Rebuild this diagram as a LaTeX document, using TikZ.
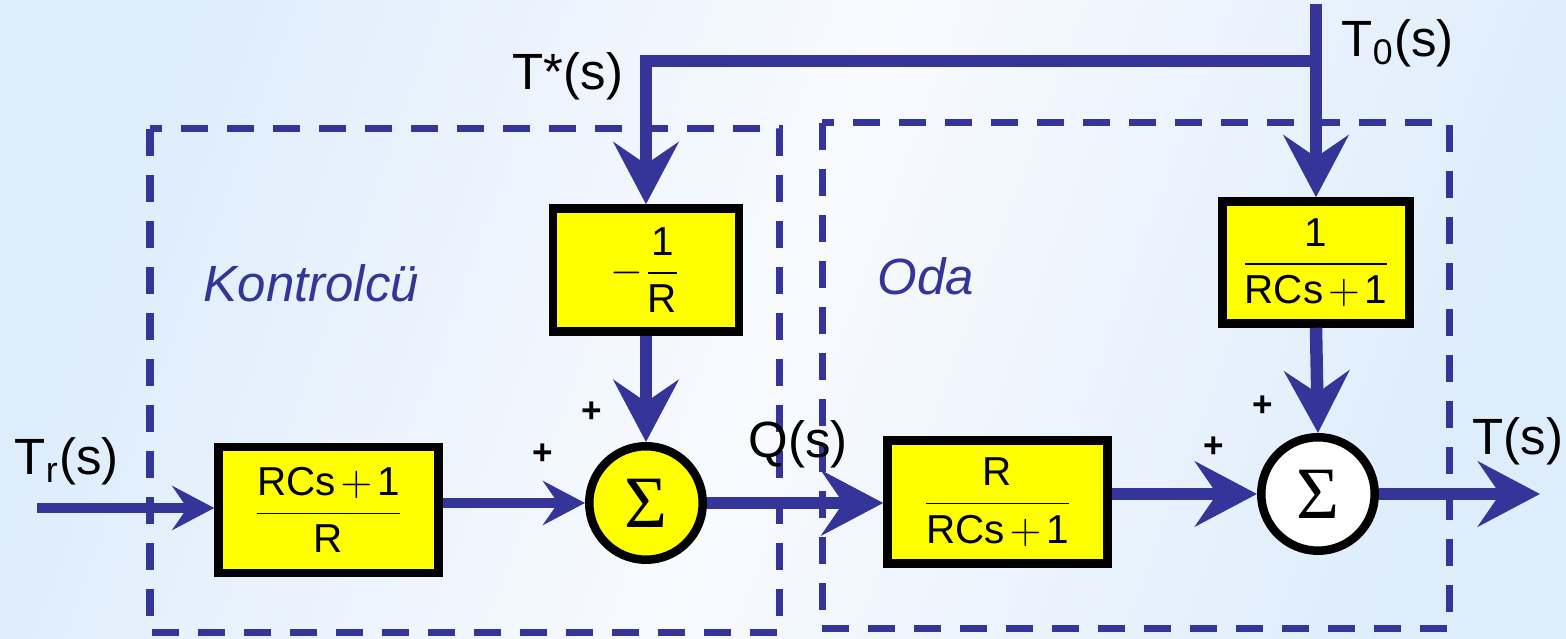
\documentclass[tikz,border=0pt]{standalone}
\usepackage{fontspec}
\setmainfont{Liberation Sans}
\newfontfamily\sigmafont{Liberation Serif}
\usepackage{amsmath}
\usetikzlibrary{positioning, arrows.meta, backgrounds}

\definecolor{navy}{RGB}{53,53,153}
\definecolor{bgblue}{RGB}{222,237,252}
\definecolor{bgwhite}{RGB}{248,250,254}
\definecolor{boxyellow}{RGB}{255,255,0}

\newcommand{\rcs}{\mathrm{RCs}\mkern2mu{+}\mkern2mu\mathrm{1}}

\begin{document}
\begin{tikzpicture}[
  block/.style={draw=black, line width=0.085cm, fill=boxyellow, inner sep=0pt,
                align=center, font=\fontsize{11.5}{13}\selectfont},
  sumnode/.style={draw=black, circle, line width=0.085cm, minimum size=1.135cm,
                  inner sep=0pt, font=\sigmafont\fontsize{21}{21}\selectfont},
  arr/.style={-{Stealth[length=0.62cm, width=0.65cm, inset=0.22cm]},
              line width=0.125cm, color=navy, line join=miter},
  arrthin/.style={-{Stealth[length=0.42cm, width=0.44cm, inset=0.15cm]},
                  line width=0.095cm, color=navy},
  sig/.style={font=\fontsize{14.5}{16}\selectfont, inner sep=0pt, anchor=base west},
  grp/.style={font=\itshape\fontsize{14.5}{16}\selectfont, text=navy, inner sep=0pt,
              anchor=base west},
  pls/.style={font=\bfseries\fontsize{10}{10}\selectfont, inner sep=0pt},
  gbox/.style={draw=navy, line width=0.07cm, dash pattern=on 0.27cm off 0.19cm},
]

% --- background ---
\useasboundingbox (0,0) rectangle (15.66,-6.39);
\shade[top color=bgblue, bottom color=bgblue, middle color=bgwhite, shading angle=70]
  (0,0) rectangle (15.66,-6.39);

% --- Grouping ---
\draw[gbox] (1.50,-1.29) rectangle (7.79,-6.33);
\draw[gbox] (8.22,-1.23) rectangle (14.49,-6.29);
\node[grp] (kontrol) at (2.03,-3.02) {Kontrolcü};
\node[grp] (oda) at (8.77,-2.95) {Oda};

% --- Blocks ---
\node[block, minimum width=2.20cm, minimum height=1.26cm] (ctrl) at (3.285,-5.10)
  {$\dfrac{\rcs}{\mathrm{R}}$};
\node[block, minimum width=1.86cm, minimum height=1.23cm] (gain) at (6.46,-2.70)
  {$-\dfrac{\mathrm{1}}{\mathrm{R}}$};
\node[block, minimum width=2.20cm, minimum height=1.23cm] (room) at (9.975,-5.02)
  {$\dfrac{\mathrm{R}}{\rcs}$};
\node[block, minimum width=1.87cm, minimum height=1.22cm] (dist) at (13.16,-2.625)
  {$\dfrac{\mathrm{1}}{\rcs}$};

% --- Summing points ---
\node[sumnode, fill=boxyellow] (sum1) at (6.46,-5.03) {Σ};
\node[sumnode, fill=white] (sum2) at (13.18,-4.94) {Σ};

% --- Free ends ---
\coordinate (tin) at (0.37,-5.08);
\coordinate (t0top) at (13.16,-0.04);
\coordinate (jn) at (13.16,-0.61);
\coordinate (tout) at (15.40,-4.94);

% --- Signals ---
\draw[arrthin] (tin) -- (ctrl.west |- tin);
\draw[arrthin] (ctrl.east |- sum1.west) -- (sum1.west);
\draw[arr] (t0top) -- (dist.north);
\draw[arr] (jn) -| (gain.north);
\draw[arr] (gain.south) -- (sum1.north);
\draw[arr] (sum1.east) -- (room.west |- sum1.east);
\draw[arr] (room.east |- sum2.west) -- (sum2.west);
\draw[arr] (dist.south) -- (sum2.north);
\draw[arr] (sum2.east) -- (tout);

% --- Labels ---
\node[sig] (lblr) at (0.14,-4.75) {T\textsubscript{r}(s)};
\node[sig] (lblstar) at (5.12,-0.90) {T*(s)};
\node[sig] (lblzero) at (13.41,-0.57) {T\textsubscript{0}(s)};
\node[sig] (lblq) at (7.48,-4.58) {Q(s)};
\node[sig] (lblout) at (14.72,-4.55) {T(s)};

\node[pls] (p1) at (5.92,-4.12) {+};
\node[pls] (p2) at (5.43,-4.54) {+};
\node[pls] (p3) at (12.63,-4.06) {+};
\node[pls] (p4) at (12.14,-4.47) {+};

\end{tikzpicture}
\end{document}
